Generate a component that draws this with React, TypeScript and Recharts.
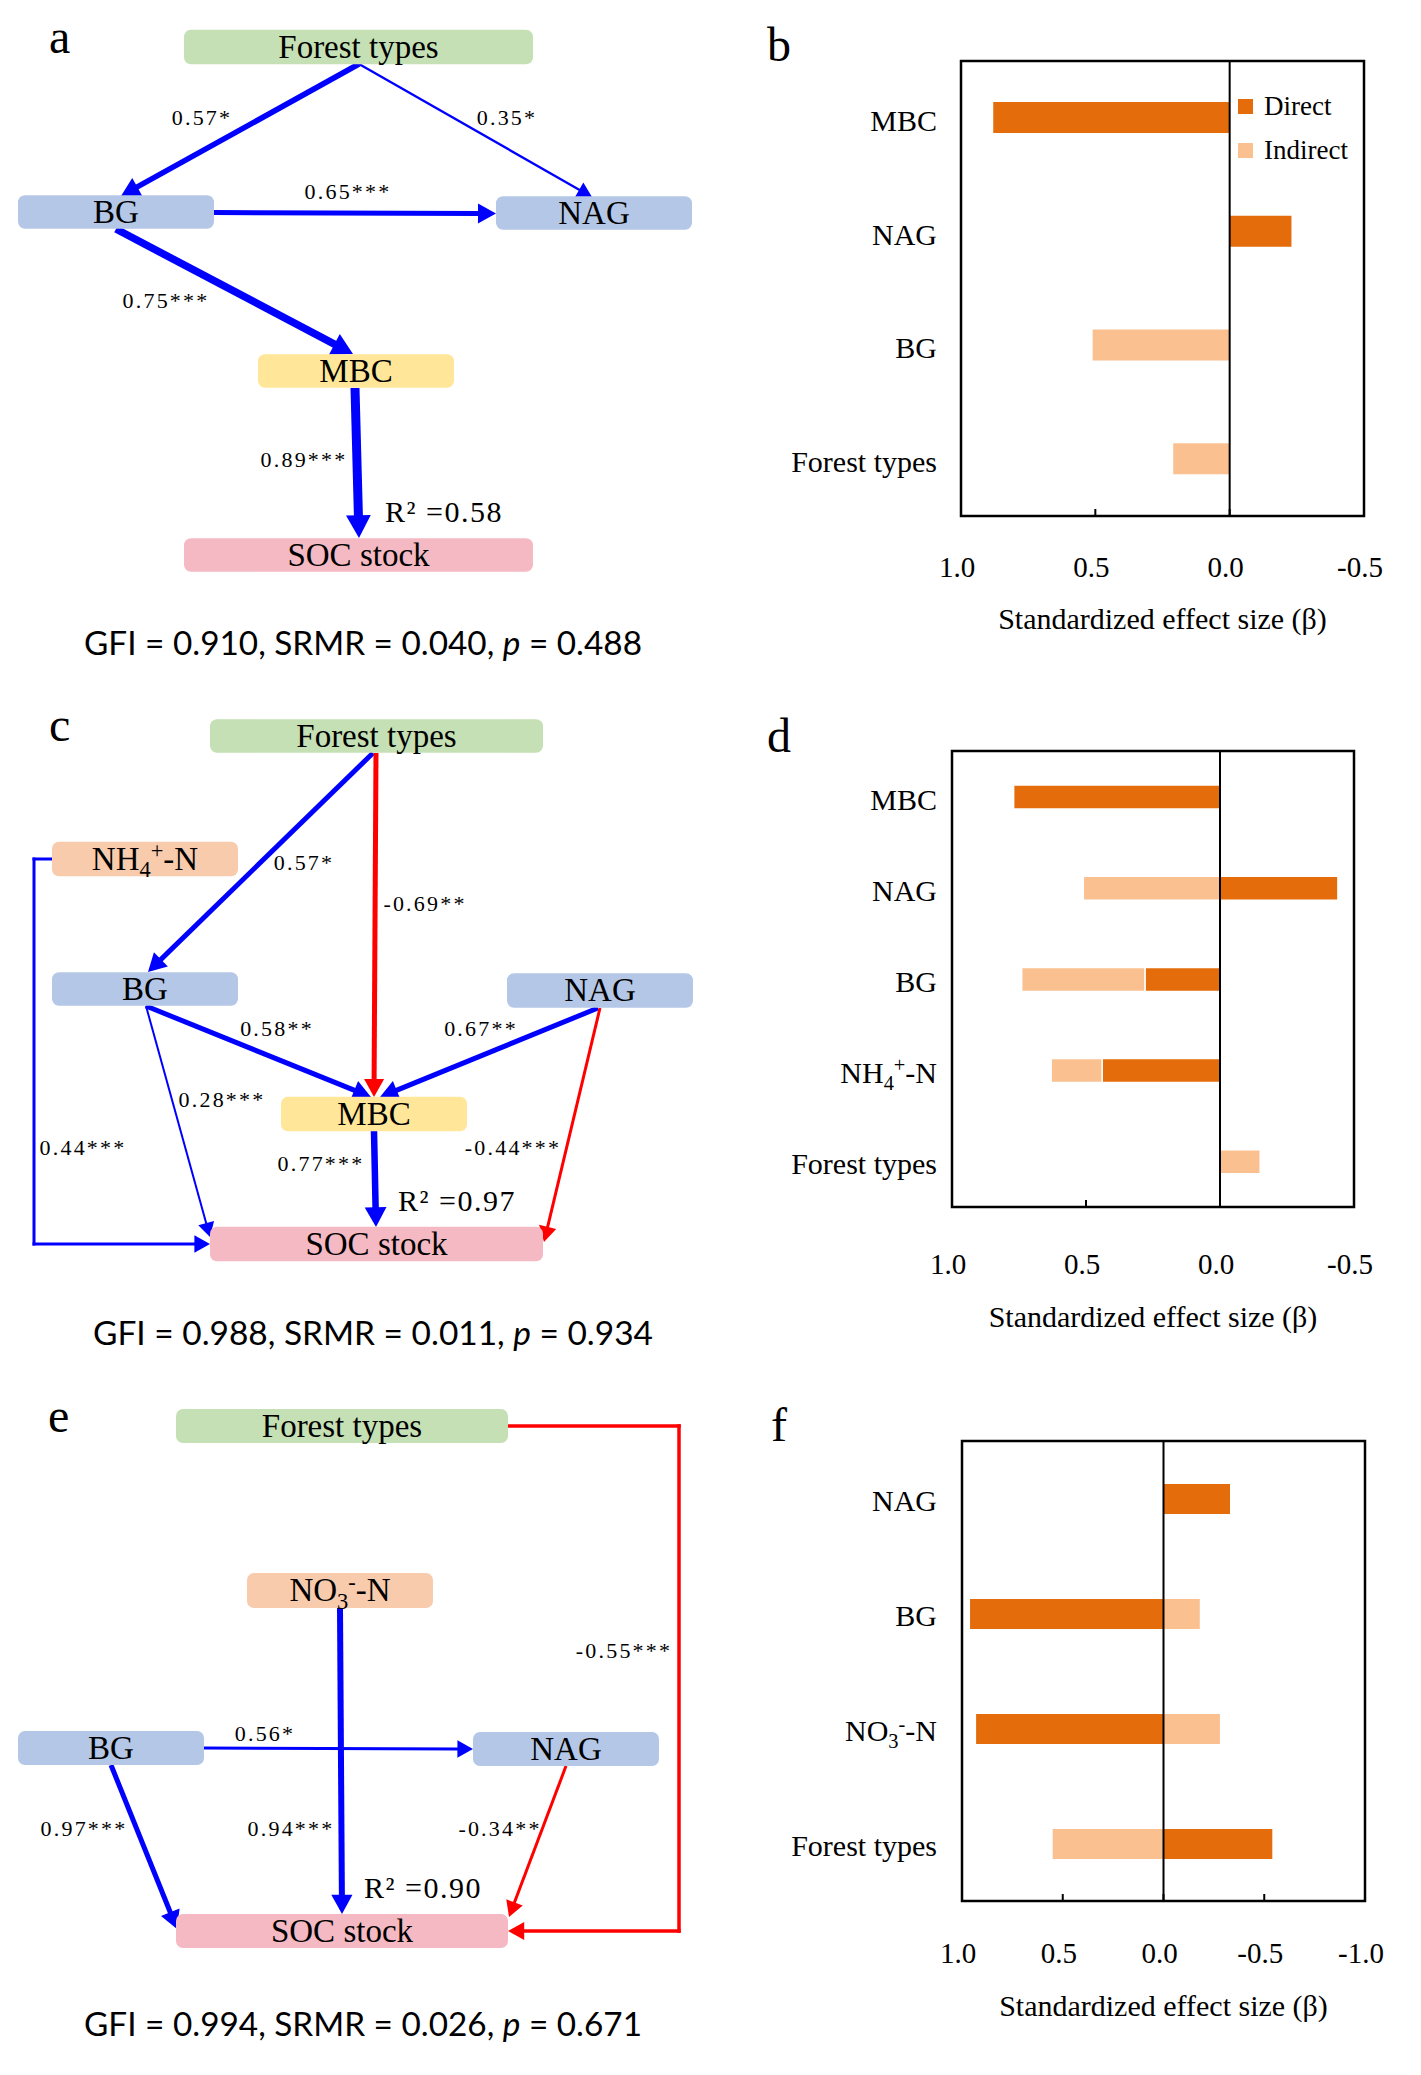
import React from 'react';
import { ScatterChart, Scatter, BarChart, Bar, XAxis, YAxis, ReferenceLine, ReferenceArea, Legend } from 'recharts';

const SERIF = '"Liberation Serif", "Times New Roman", serif';
const SANS = 'Lato, "Open Sans", sans-serif';
const BLUE = '#0000ff';
const RED = '#ff0000';
const DIRECT = '#e46c0a';
const INDIRECT = '#fac090';

const NODE_FILL: Record<string, string> = {
  'Forest types': '#c5e0b4',
  BG: '#b4c7e7',
  NAG: '#b4c7e7',
  MBC: '#ffe699',
  'SOC stock': '#f4b9c2',
  'NH4+-N': '#f8cbad',
  'NO3--N': '#f8cbad',
};

// ---- path models (a, c, e)
const nodesA = ['Forest types', 'BG', 'NAG', 'MBC', 'SOC stock'];
const pathsA = [
  { from: 'Forest types', to: 'BG', coef: '0.57*' },
  { from: 'Forest types', to: 'NAG', coef: '0.35*' },
  { from: 'BG', to: 'NAG', coef: '0.65***' },
  { from: 'BG', to: 'MBC', coef: '0.75***' },
  { from: 'MBC', to: 'SOC stock', coef: '0.89***' },
];
const r2A = '0.58';
const fitA = ['0.910', '0.040', '0.488'];

const nodesC = ['Forest types', 'NH4+-N', 'BG', 'NAG', 'MBC', 'SOC stock'];
const pathsC = [
  { from: 'Forest types', to: 'BG', coef: '0.57*' },
  { from: 'Forest types', to: 'MBC', coef: '-0.69**' },
  { from: 'NH4+-N', to: 'SOC stock', coef: '0.44***' },
  { from: 'BG', to: 'SOC stock', coef: '0.28***' },
  { from: 'BG', to: 'MBC', coef: '0.58**' },
  { from: 'NAG', to: 'MBC', coef: '0.67**' },
  { from: 'NAG', to: 'SOC stock', coef: '-0.44***' },
  { from: 'MBC', to: 'SOC stock', coef: '0.77***' },
];
const r2C = '0.97';
const fitC = ['0.988', '0.011', '0.934'];

const nodesE = ['Forest types', 'NO3--N', 'BG', 'NAG', 'SOC stock'];
const pathsE = [
  { from: 'Forest types', to: 'SOC stock', coef: '-0.55***' },
  { from: 'NO3--N', to: 'SOC stock', coef: '0.94***' },
  { from: 'BG', to: 'NAG', coef: '0.56*' },
  { from: 'BG', to: 'SOC stock', coef: '0.97***' },
  { from: 'NAG', to: 'SOC stock', coef: '-0.34**' },
];
const r2E = '0.90';
const fitE = ['0.994', '0.026', '0.671'];

// ---- effect sizes (b, d, f)
const catsB = ['MBC', 'NAG', 'BG', 'Forest types'];
const directB = [0.88, -0.23, 0, 0];
const indirectB = [0, 0, 0.51, 0.21];

const catsD = ['MBC', 'NAG', 'BG', 'NH4+-N', 'Forest types'];
const directD = [0.77, -0.44, 0.28, 0.44, 0];
const indirectD = [0, 0.51, 0.46, 0.19, -0.15];

const catsF = ['NAG', 'BG', 'NO3--N', 'Forest types'];
const directF = [-0.33, 0.96, 0.93, -0.54];
const indirectF = [0, -0.18, -0.28, 0.55];

const ticksBD = [1, 0.5, 0, -0.5];
const ticksF = [1, 0.5, 0, -0.5, -1];

// ---- diagram layout (panel coordinates, 1 unit = 1 px)
type Geo = {
  box: Record<string, number[]>;
  edges: { pts: number[][]; w: number; at: number[] }[];
  r2: number[];
};

const geoA: Geo = {
  box: {
    'Forest types': [358.5, 47, 349, 34.5],
    BG: [116, 212, 196, 33.5],
    NAG: [594, 213, 196, 33.5],
    MBC: [356, 371, 196, 33.5],
    'SOC stock': [358.5, 555, 349, 33.5],
  },
  edges: [
    { pts: [[359, 64], [121, 196]], w: 5.5, at: [202, 118] },
    { pts: [[359, 64], [592, 197]], w: 2.3, at: [507, 118] },
    { pts: [[214, 212.5], [496, 213.5]], w: 5, at: [348, 192] },
    { pts: [[116, 229], [353, 354]], w: 7.5, at: [166, 301] },
    { pts: [[355, 388], [359, 538]], w: 9, at: [304, 460] },
  ],
  r2: [444, 512],
};

const geoC: Geo = {
  box: {
    'Forest types': [376.5, 56, 333, 33.5],
    'NH4+-N': [145, 179, 186, 34.5],
    BG: [145, 309, 186, 33.5],
    NAG: [600, 310.5, 186, 34.5],
    MBC: [374, 434, 186, 34.5],
    'SOC stock': [376.5, 564, 333, 34.5],
  },
  edges: [
    { pts: [[373, 73], [148, 292]], w: 5, at: [304, 183] },
    { pts: [[376, 73], [374, 417]], w: 5, at: [425, 224] },
    { pts: [[52, 179], [34, 179], [34, 564], [210, 564]], w: 3, at: [83, 468] },
    { pts: [[146, 326], [210, 557]], w: 2, at: [222, 420] },
    { pts: [[146, 326], [371, 417]], w: 5, at: [277, 349] },
    { pts: [[598, 328], [380, 417]], w: 5, at: [481, 349] },
    { pts: [[600, 328], [544, 562]], w: 3, at: [513, 468] },
    { pts: [[374, 451], [376, 547]], w: 6.5, at: [321, 484] },
  ],
  r2: [457, 521],
};

const geoE: Geo = {
  box: {
    'Forest types': [342, 66, 332, 34],
    'NO3--N': [340, 230.5, 186, 35],
    BG: [111, 388, 186, 34],
    NAG: [566, 389, 186, 34],
    'SOC stock': [342, 571, 332, 34],
  },
  edges: [
    { pts: [[508, 66], [679, 66], [679, 571], [508, 571]], w: 3.5, at: [624, 291] },
    { pts: [[340, 248], [342, 554]], w: 6, at: [291, 469] },
    { pts: [[204, 388], [473, 389]], w: 3, at: [265, 374] },
    { pts: [[111, 405], [177, 569]], w: 5, at: [84, 469] },
    { pts: [[566, 406], [509, 557]], w: 3, at: [500, 469] },
  ],
  r2: [423, 528],
};

// NH4+-N / NO3--N with sub- and superscripts
const RICH: Record<string, [string, number][]> = {
  'NH4+-N': [['NH', 0], ['4', 1], ['+', -1], ['-N', 0]],
  'NO3--N': [['NO', 0], ['3', 1], ['-', -1], ['-N', 0]],
};

function rich(label: string, fs: number) {
  const parts = RICH[label];
  if (!parts) return label;
  let cur = 0;
  return parts.map(([t, k], i) => {
    const target = k === 1 ? fs * 0.22 : k === -1 ? -fs * 0.36 : 0;
    const dy = target - cur;
    cur = target;
    return (
      <tspan key={i} dy={dy} fontSize={k ? fs * 0.68 : fs}>
        {t}
      </tspan>
    );
  });
}

function Seg(props: any) {
  const { x1, y1, x2, y2, w, color, head, cap } = props;
  if ([x1, y1, x2, y2].some((v) => typeof v !== 'number' || isNaN(v))) return null;
  if (!head) {
    return <line x1={x1} y1={y1} x2={x2} y2={y2} stroke={color} strokeWidth={w} strokeLinecap="square" />;
  }
  const dx = x2 - x1;
  const dy = y2 - y1;
  const len = Math.hypot(dx, dy) || 1;
  const ux = dx / len;
  const uy = dy / len;
  const L = 12 + 1.2 * w;
  const hw = 7 + 0.6 * w;
  const bx = x2 - ux * L;
  const by = y2 - uy * L;
  const tri = `${x2},${y2} ${bx - uy * hw},${by + ux * hw} ${bx + uy * hw},${by - ux * hw}`;
  return (
    <g>
      <line x1={x1} y1={y1} x2={bx + ux} y2={by + uy} stroke={color} strokeWidth={w} strokeLinecap={cap ? 'square' : 'butt'} />
      <polygon points={tri} fill={color} />
    </g>
  );
}

const NodeShape = (p: any) => {
  const { cx, cy, payload } = p;
  const { w, h, name } = payload;
  const fs = 33;
  return (
    <g>
      <rect x={cx - w / 2} y={cy - h / 2} width={w} height={h} rx={7} fill={NODE_FILL[name]} />
      <text x={cx} y={cy + fs * 0.33} textAnchor="middle" fontFamily={SERIF} fontSize={fs} fill="#000">
        {rich(name, fs)}
      </text>
    </g>
  );
};

const TagShape = (p: any) => {
  const { cx, cy, payload } = p;
  const fs = payload.big ? 30 : 22;
  return (
    <text
      x={cx}
      y={cy + fs * 0.34}
      textAnchor="middle"
      fontFamily={SERIF}
      fontSize={fs}
      letterSpacing={payload.big ? 1.5 : 2.2}
      fill="#000"
    >
      {payload.text}
    </text>
  );
};

function PathDiagram({ nodes, paths, r2, geo, width, height }: any) {
  const nodeData = nodes.map((n: string) => {
    const [x, y, w, h] = geo.box[n];
    return { x, y, w, h, name: n };
  });
  const tagData = paths.map((p: any, i: number) => ({ x: geo.edges[i].at[0], y: geo.edges[i].at[1], text: p.coef }));
  tagData.push({ x: geo.r2[0], y: geo.r2[1], text: `R\u00b2 =${r2}`, big: true });

  return (
    <ScatterChart width={width} height={height} margin={{ top: 0, right: 0, bottom: 0, left: 0 }}>
      <XAxis type="number" dataKey="x" domain={[0, width]} allowDataOverflow hide />
      <YAxis type="number" dataKey="y" domain={[0, height]} allowDataOverflow reversed hide />
      {paths.map((p: any, i: number) => {
        const e = geo.edges[i];
        const color = p.coef.startsWith('-') ? RED : BLUE;
        const last = e.pts.length - 2;
        return e.pts.slice(1).map((pt: number[], j: number) => (
          <ReferenceLine
            key={`${i}-${j}`}
            ifOverflow="visible"
            segment={[
              { x: e.pts[j][0], y: e.pts[j][1] },
              { x: pt[0], y: pt[1] },
            ]}
            shape={(sp: any) => <Seg {...sp} w={e.w} color={color} head={j === last} cap={last > 0} />}
          />
        ));
      })}
      <Scatter data={nodeData} shape={NodeShape} isAnimationActive={false} />
      <Scatter data={tagData} shape={TagShape} isAnimationActive={false} />
    </ScatterChart>
  );
}

const XTick = (p: any) => {
  const { x, y, payload, off } = p;
  return (
    <g>
      <line x1={x} x2={x} y1={y} y2={y - 7} stroke="#000" strokeWidth={2} />
      <text x={x - 4} y={y + off} textAnchor="middle" fontFamily={SERIF} fontSize={29} fill="#000">
        {Number(payload.value).toFixed(1)}
      </text>
    </g>
  );
};

const YTick = (p: any) => {
  const { x, y, payload, gap } = p;
  const fs = 30;
  return (
    <text x={x - gap} y={y + fs * 0.33 + 3} textAnchor="end" fontFamily={SERIF} fontSize={fs} fill="#000">
      {rich(payload.value, fs)}
    </text>
  );
};

const LegendBox = ({ payload }: any) => (
  <div style={{ fontFamily: SERIF, fontSize: 27, color: '#000' }}>
    {(payload || []).map((e: any) => (
      <div key={e.value} style={{ display: 'flex', alignItems: 'center', height: 44 }}>
        <span style={{ display: 'inline-block', width: 15, height: 15, background: e.color, marginRight: 11 }} />
        <span>{e.value}</span>
      </div>
    ))}
  </div>
);

function EffectChart({ cats, direct, indirect, domain, ticks, width, height, margin, barSize, gap, labelGap, tickOff, titleOff, legend }: any) {
  const data = cats.map((c: string, i: number) => ({ name: c, direct: direct[i], indirect: indirect[i] }));
  return (
    <BarChart layout="vertical" width={width} height={height} data={data} margin={margin} stackOffset="sign">
      <XAxis
        type="number"
        domain={domain}
        ticks={ticks}
        reversed
        allowDataOverflow
        interval={0}
        axisLine={false}
        tickLine={false}
        tickSize={0}
        tickMargin={0}
        height={30}
        tick={(tp: any) => <XTick {...tp} off={tickOff} />}
        label={{
          value: 'Standardized effect size (\u03b2)',
          position: 'bottom',
          offset: titleOff,
          fontSize: 30,
          fontFamily: SERIF,
          fill: '#000',
        }}
      />
      <YAxis
        type="category"
        dataKey="name"
        width={200}
        interval={0}
        axisLine={false}
        tickLine={false}
        tickSize={0}
        tickMargin={0}
        tick={(tp: any) => <YTick {...tp} gap={labelGap} />}
      />
      <ReferenceArea x1={domain[1]} x2={domain[0]} fill="none" stroke="#000" strokeWidth={2.5} ifOverflow="visible" />
      <Bar
        dataKey="direct"
        name="Direct"
        stackId="s"
        fill={DIRECT}
        barSize={barSize}
        stroke={gap ? '#fff' : undefined}
        strokeWidth={gap ? 1.5 : 0}
        isAnimationActive={false}
      />
      <Bar
        dataKey="indirect"
        name="Indirect"
        stackId="s"
        fill={INDIRECT}
        barSize={barSize}
        stroke={gap ? '#fff' : undefined}
        strokeWidth={gap ? 1.5 : 0}
        isAnimationActive={false}
      />
      <ReferenceLine x={0} stroke="#000" strokeWidth={2} />
      {legend && (
        <Legend
          layout="vertical"
          align="center"
          verticalAlign="middle"
          wrapperStyle={{ left: 528, top: 84, width: 170 }}
          content={(lp: any) => <LegendBox {...lp} />}
        />
      )}
    </BarChart>
  );
}

const at = (left: number, top: number): React.CSSProperties => ({ position: 'absolute', left, top });

function Fit({ x, y, len, fit }: any) {
  return (
    <text x={x} y={y} textLength={len} lengthAdjust="spacingAndGlyphs" fontFamily={SANS} fontSize={33} fill="#000">
      {`GFI = ${fit[0]}, SRMR = ${fit[1]}, `}
      <tspan fontStyle="italic">p</tspan>
      {` = ${fit[2]}`}
    </text>
  );
}

export default function App() {
  return (
    <div style={{ position: 'absolute', left: 0, top: 0, width: 1421, height: 2075, background: '#fff' }}>
      <div style={at(0, 0)}>
        <PathDiagram nodes={nodesA} paths={pathsA} r2={r2A} geo={geoA} width={710} height={680} />
      </div>
      <div style={at(0, 680)}>
        <PathDiagram nodes={nodesC} paths={pathsC} r2={r2C} geo={geoC} width={710} height={680} />
      </div>
      <div style={at(0, 1360)}>
        <PathDiagram nodes={nodesE} paths={pathsE} r2={r2E} geo={geoE} width={710} height={715} />
      </div>

      <div style={at(710, 0)}>
        <EffectChart
          cats={catsB}
          direct={directB}
          indirect={indirectB}
          domain={[-0.5, 1]}
          ticks={ticksBD}
          width={711}
          height={680}
          margin={{ top: 61, right: 57, bottom: 134, left: 51 }}
          barSize={31}
          labelGap={24}
          tickOff={61}
          titleOff={62}
          legend
        />
      </div>
      <div style={at(710, 680)}>
        <EffectChart
          cats={catsD}
          direct={directD}
          indirect={indirectD}
          domain={[-0.5, 1]}
          ticks={ticksBD}
          width={711}
          height={680}
          margin={{ top: 71, right: 67, bottom: 123, left: 42 }}
          barSize={24}
          gap
          labelGap={15}
          tickOff={67}
          titleOff={69}
        />
      </div>
      <div style={at(710, 1360)}>
        <EffectChart
          cats={catsF}
          direct={directF}
          indirect={indirectF}
          domain={[-1, 1]}
          ticks={ticksF}
          width={711}
          height={715}
          margin={{ top: 81, right: 56, bottom: 144, left: 52 }}
          barSize={30}
          labelGap={25}
          tickOff={62}
          titleOff={64}
        />
      </div>

      <svg width={1421} height={2075} style={{ position: 'absolute', left: 0, top: 0, pointerEvents: 'none' }}>
        <g fontFamily={SERIF} fontSize={48} fill="#000">
          <text x={49} y={53}>a</text>
          <text x={767} y={61}>b</text>
          <text x={49} y={741}>c</text>
          <text x={767} y={752}>d</text>
          <text x={48} y={1432}>e</text>
          <text x={771} y={1441}>f</text>
        </g>
        <Fit x={84} y={655} len={558} fit={fitA} />
        <Fit x={93} y={1345} len={560} fit={fitC} />
        <Fit x={84} y={2036} len={558} fit={fitE} />
      </svg>
    </div>
  );
}
